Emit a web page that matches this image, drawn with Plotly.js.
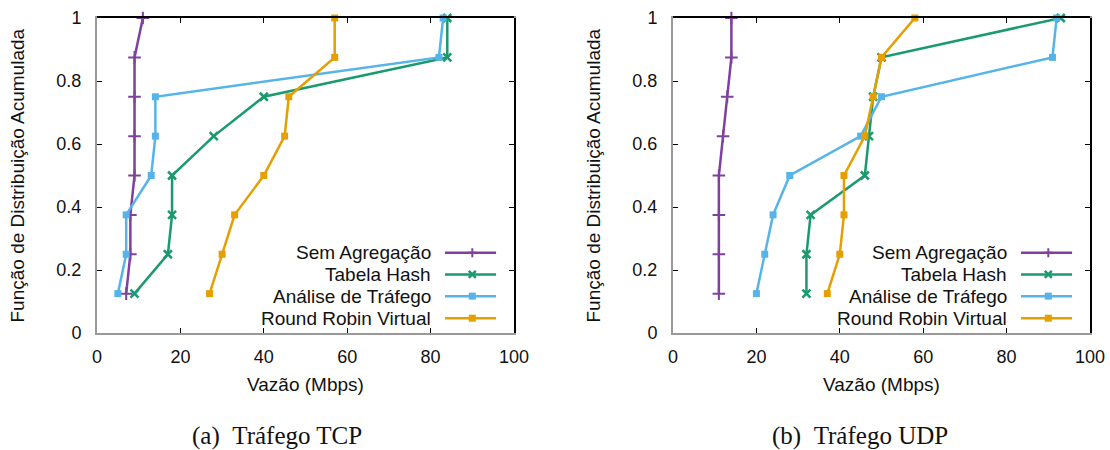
<!DOCTYPE html>
<html><head><meta charset="utf-8">
<script src="https://cdn.plot.ly/plotly-3.0.1.min.js"></script>
<style>html,body{margin:0;padding:0;background:#fff}#chart{width:1110px;height:450px}</style>
</head><body><div id="chart"></div>
<script>
// ---- data ----
const cdfLevels = [0.125, 0.25, 0.375, 0.5, 0.625, 0.75, 0.875, 1.0];
const seriesNames = ['Sem Agregação', 'Tabela Hash', 'Análise de Tráfego', 'Round Robin Virtual'];
const tcpSemAgregacao   = [7, 8, 8, 9, 9, 9, 9, 11];
const tcpTabelaHash     = [9, 17, 18, 18, 28, 40, 84, 84];
const tcpAnaliseTrafego = [5, 7, 7, 13, 14, 14, 82, 83];
const tcpRoundRobin     = [27, 30, 33, 40, 45, 46, 57, 57];
const udpSemAgregacao   = [11, 11, 11, 11, 12, 13, 14, 14];
const udpTabelaHash     = [32, 32, 33, 46, 47, 48, 50, 93];
const udpAnaliseTrafego = [20, 22, 24, 28, 45, 50, 91, 92];
const udpRoundRobin     = [37, 40, 41, 41, 46, 48, 50, 58];
const xTickVals = [0, 20, 40, 60, 80, 100];
const xTickLabels = ['0', '20', '40', '60', '80', '100'];
const yTickVals = [0, 0.2, 0.4, 0.6, 0.8, 1];
const yTickLabels = ['0', '0.2', '0.4', '0.6', '0.8', '1'];
const captions = ['(a)\u00a0\u00a0Tráfego TCP', '(b)\u00a0\u00a0Tráfego UDP'];
const xTitle = 'Vazão (Mbps)';
const yTitle = 'Função de Distribuição Acumulada';

// ---- styles ----
const W = 1110, H = 450;
const colors = ['#8040a0', '#1a9a6e', '#56b4e9', '#e69f00'];
const markerStyles = [
  {symbol: 'cross-thin', size: 9, line: {width: 2, color: colors[0]}, color: colors[0]},
  {symbol: 'x-thin', size: 8, line: {width: 2.5, color: colors[1]}, color: colors[1]},
  {symbol: 'square', size: 7, color: colors[2], line: {width: 0}},
  {symbol: 'square', size: 7, color: colors[3], line: {width: 0}}
];
const sans = 'Liberation Sans, Arial, Helvetica, sans-serif';
const serif = 'Liberation Serif, Times New Roman, serif';
const textColor = '#111';

const panels = [
  {series: [tcpSemAgregacao, tcpTabelaHash, tcpAnaliseTrafego, tcpRoundRobin], xa: 'x', ya: 'y', xd: [97 / W, 514 / W], capX: 277},
  {series: [udpSemAgregacao, udpTabelaHash, udpAnaliseTrafego, udpRoundRobin], xa: 'x2', ya: 'y2', xd: [673 / W, 1090 / W], capX: 860}
];
const yDomain = [1 - 333 / H, 1 - 18 / H];

const traces = [];
panels.forEach(p => {
  p.series.forEach((vals, i) => {
    traces.push({
      type: 'scatter', mode: 'lines+markers',
      x: vals, y: cdfLevels, xaxis: p.xa, yaxis: p.ya,
      name: seriesNames[i], showlegend: false, cliponaxis: false,
      line: {color: colors[i], width: 2.5},
      marker: markerStyles[i], hoverinfo: 'skip'
    });
  });
});

function axisX(domain, anchor) {
  return {
    domain: domain, anchor: anchor, range: [0, 100], tickmode: 'array',
    tickvals: xTickVals, ticktext: xTickLabels, ticks: 'inside', ticklen: 5,
    tickwidth: 1, tickcolor: '#000', showline: true, linecolor: '#999', linewidth: 2,
    mirror: 'ticks', showgrid: false, zeroline: false, fixedrange: true,
    tickfont: {family: sans, size: 18, color: textColor}, ticklabelstandoff: 6
  };
}
function axisY(anchor) {
  return {
    domain: yDomain, anchor: anchor, range: [0, 1], tickmode: 'array',
    tickvals: yTickVals, ticktext: yTickLabels, ticks: 'inside', ticklen: 5,
    tickwidth: 1, tickcolor: '#000', showline: true, linecolor: '#999', linewidth: 2,
    mirror: 'ticks', showgrid: false, zeroline: false, fixedrange: true,
    tickfont: {family: sans, size: 18, color: textColor}, ticklabelstandoff: 10
  };
}

const annotations = [];
const shapes = [];
const legendRows = [0.255, 0.186, 0.117, 0.047];
panels.forEach((p, k) => {
  const xdom = p.xa + ' domain', ydom = p.ya + ' domain';
  annotations.push({text: xTitle, xref: xdom, x: 0.5, yref: 'paper', y: 1 - 384 / H,
    xanchor: 'center', yanchor: 'middle', showarrow: false, font: {family: sans, size: 19, color: textColor}});
  annotations.push({text: yTitle, xref: 'paper', x: (p.xd[0] * W - 80) / W, yref: ydom, y: 0.5,
    xanchor: 'center', yanchor: 'middle', textangle: -90, showarrow: false, font: {family: sans, size: 19, color: textColor}});
  annotations.push({text: captions[k], xref: 'paper', x: p.capX / W, yref: 'paper', y: 1 - 436 / H,
    xanchor: 'center', yanchor: 'middle', showarrow: false, font: {family: serif, size: 25, color: textColor}});
  // frame top/right in black
  shapes.push({type: 'line', xref: xdom, yref: ydom, x0: 0, x1: 1, ysizemode: 'pixel', yanchor: 1, y0: 1, y1: 1,
    line: {color: '#000', width: 2}, layer: 'above'});
  shapes.push({type: 'line', xref: xdom, yref: ydom, y0: 0, y1: 1, xsizemode: 'pixel', xanchor: 1, x0: 1, x1: 1,
    line: {color: '#000', width: 2}, layer: 'above'});
  // legend
  seriesNames.forEach((nm, i) => {
    const ry = legendRows[i];
    annotations.push({text: nm, xref: xdom, x: 0.806, yref: ydom, y: ry, xanchor: 'right', yanchor: 'middle',
      showarrow: false, font: {family: sans, size: 19, color: textColor}});
    shapes.push({type: 'line', xref: xdom, yref: ydom, x0: 0.8345, x1: 0.957, y0: ry, y1: ry,
      line: {color: colors[i], width: 2.5}, layer: 'above'});
    const base = {xref: xdom, yref: ydom, xsizemode: 'pixel', ysizemode: 'pixel', xanchor: 0.9, yanchor: ry, layer: 'above'};
    if (i === 0) shapes.push(Object.assign({type: 'path', path: 'M-4.5,0H4.5M0,-4.5V4.5', line: {color: colors[i], width: 2}}, base));
    else if (i === 1) shapes.push(Object.assign({type: 'path', path: 'M-3.5,-3.5L3.5,3.5M-3.5,3.5L3.5,-3.5', line: {color: colors[i], width: 2.5}}, base));
    else shapes.push(Object.assign({type: 'rect', x0: -3.5, x1: 3.5, y0: -3.5, y1: 3.5, fillcolor: colors[i], line: {width: 0}}, base));
  });
});

const layout = {
  width: W, height: H, margin: {l: 0, r: 0, t: 0, b: 0, pad: 0},
  paper_bgcolor: '#fff', plot_bgcolor: '#fff', showlegend: false,
  xaxis: axisX(panels[0].xd, 'y'), yaxis: axisY('x'),
  xaxis2: axisX(panels[1].xd, 'y2'), yaxis2: axisY('x2'),
  annotations: annotations, shapes: shapes, font: {family: sans}
};
Plotly.newPlot('chart', traces, layout, {displayModeBar: false, staticPlot: true});
</script></body></html>
